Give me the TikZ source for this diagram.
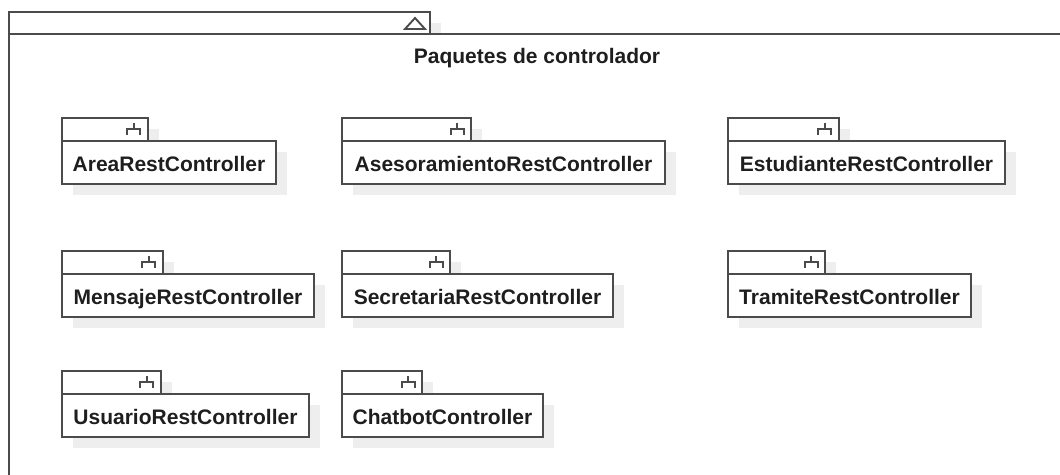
\documentclass[tikz,border=0pt]{standalone}
\usepackage{fontspec}
\setmainfont{Liberation Sans}
\usepackage{tikz}
\usetikzlibrary{positioning, shadows}
\usepackage{xcolor}
\definecolor{pkggray}{RGB}{75, 75, 75}
\definecolor{pkgtext}{RGB}{30, 30, 30}
\definecolor{pkgshadow}{RGB}{238, 238, 238}
\tikzstyle{pkgshade} = [drop shadow={shadow xshift=11pt, shadow yshift=-11pt, fill=pkgshadow, opacity=1}]
\tikzstyle{pkgtab} = [rectangle, draw=pkggray, line width=1.9pt, fill=white, outer sep=0pt, inner sep=0pt, minimum height=23pt, pkgshade]
\tikzstyle{pkgbody} = [rectangle, draw=pkggray, line width=1.9pt, fill=white, outer sep=0pt, inner sep=0pt, minimum height=43pt, text=pkgtext, font=\fontsize{21}{25}\selectfont\bfseries, text height=18pt, text depth=0pt, pkgshade]
\tikzstyle{pkgicon} = [line width=1.9pt, draw=pkggray]

% package: name, tab x, tab y, body width, label
\newcommand{\ctrlpkg}[5]{
  \node[pkgtab, minimum width=0.4*#4, anchor=north west] (#1tab) at (#2,#3) {};
  \draw[pkgicon] ([xshift=-20.5pt, yshift=-5.5pt]#1tab.east) -- ++(0,-6) -- ++(13,0) -- ++(0,6)
                 ([xshift=-14pt, yshift=0.5pt]#1tab.east) -- ++(0,-6);
  \node[pkgbody, minimum width=#4, below=0pt of #1tab.south west, anchor=north west] (#1) {#5};
}

\begin{document}
\begin{tikzpicture}[x=1pt, y=-1pt]
\path[use as bounding box, clip] (0,0) rectangle (1060,474);

% outer package
\node[pkgtab, minimum width=421, minimum height=22, anchor=north west] (maintab) at (9,12) {};
\draw[pkgicon] ([xshift=-25pt, yshift=-6pt]maintab.east) -- ++(10,-11) -- ++(10,11) -- cycle;
\node[pkgbody, minimum width=1060, minimum height=470, below=0pt of maintab.south west, anchor=north west] (mainpkg) {};
\node[font=\fontsize{21}{25}\selectfont\bfseries, text=pkgtext, anchor=base] (maintitle) at (537,63) {Paquetes de controlador};

% controllers
\ctrlpkg{area}{62}{118}{214}{AreaRestController}
\ctrlpkg{asesor}{342}{118}{323}{AsesoramientoRestController}
\ctrlpkg{estud}{728}{118}{277}{EstudianteRestController}
\ctrlpkg{mensaje}{62}{251}{252}{MensajeRestController}
\ctrlpkg{secre}{342}{251}{271}{SecretariaRestController}
\ctrlpkg{tramite}{728}{251}{243}{TramiteRestController}
\ctrlpkg{usuario}{62}{371}{247}{UsuarioRestController}
\ctrlpkg{chatbot}{342}{371}{201}{ChatbotController}
\end{tikzpicture}
\end{document}
